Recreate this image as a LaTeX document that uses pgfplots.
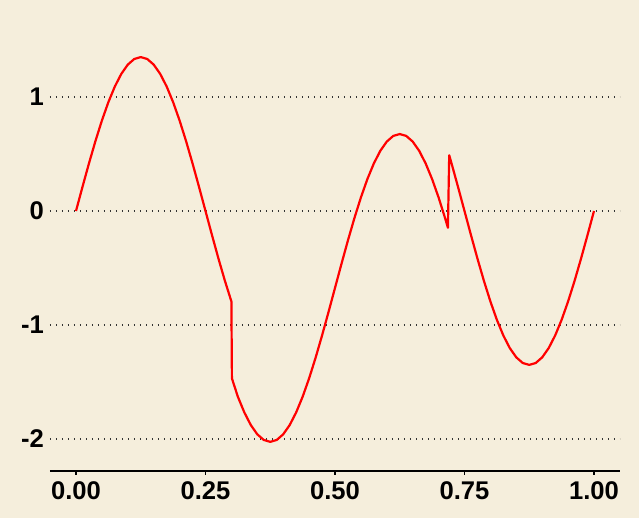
\documentclass[border=0pt]{standalone}
\usepackage{pgfplots}
\pgfplotsset{compat=1.18}
\usepackage{fontspec}
\setmainfont{Liberation Sans}
\definecolor{bgcol}{RGB}{245,238,220}

\begin{document}
\begin{tikzpicture}
\fill[bgcol] (-25pt,-23.5pt) rectangle (294.5pt,235.5pt);
\path[use as bounding box] (-25pt,-23.5pt) rectangle (294.5pt,235.5pt);
\begin{axis}[
    at={(0,0)}, anchor=south west,
    width=285pt, height=216.5pt, scale only axis,
    xmin=-0.0502, xmax=1.0502,
    ymin=-2.2807, ymax=1.5175,
    axis x line*=bottom, axis y line*=left,
    y axis line style={draw=none},
    x axis line style={line width=0.75pt, black},
    xtick={0,0.25,0.5,0.75,1},
    xticklabels={0.00,0.25,0.50,0.75,1.00},
    ytick={-2,-1,0,1},
    yticklabels={-2,-1,0,1},
    tick align=outside, major tick length=2pt,
    xtick style={line width=0.6pt, black},
    ytick style={draw=none},
    ymajorgrids,
    grid style={black!80, line width=0.7pt, dash pattern=on 0.7pt off 2.3pt},
    ticklabel style={font=\fontsize{12.8}{15}\selectfont\bfseries},
    yticklabel style={xshift=2.5pt},
]
% signal with two jumps (x = 0.3 and x = 0.72)
\addplot[red, line width=1.1pt, line join=round] coordinates {
    (0,0) (0.0125,0.2112) (0.025,0.4172) (0.0375,0.6129) (0.05,0.7935)
    (0.0625,0.9546) (0.075,1.0922) (0.0875,1.2029) (0.1,1.2839) (0.1125,1.3334)
    (0.125,1.35) (0.1375,1.3334) (0.15,1.2839) (0.1625,1.2029) (0.175,1.0922)
    (0.1875,0.9546) (0.2,0.7935) (0.2125,0.6129) (0.225,0.4172) (0.2375,0.2112)
    (0.25,0) (0.2625,-0.2112) (0.275,-0.4172) (0.2875,-0.6129) (0.3,-0.7935)
    (0.301,-1.4685)
    (0.3125,-1.6296) (0.325,-1.7672) (0.3375,-1.8779) (0.35,-1.9589) (0.3625,-2.0084)
    (0.375,-2.025) (0.3875,-2.0084) (0.4,-1.9589) (0.4125,-1.8779) (0.425,-1.7672)
    (0.4375,-1.6296) (0.45,-1.4685) (0.4625,-1.2879) (0.475,-1.0922) (0.4875,-0.8862)
    (0.5,-0.675) (0.5125,-0.4638) (0.525,-0.2578) (0.5375,-0.0621) (0.55,0.1185)
    (0.5625,0.2796) (0.575,0.4172) (0.5875,0.5279) (0.6,0.6089) (0.6125,0.6584)
    (0.625,0.675) (0.6375,0.6584) (0.65,0.6089) (0.6625,0.5279) (0.675,0.4172)
    (0.6875,0.2796) (0.7,0.1185) (0.7125,-0.0621) (0.718,-0.147)
    (0.7205,0.489)
    (0.725,0.4172) (0.7375,0.2112) (0.75,0) (0.7625,-0.2112) (0.775,-0.4172)
    (0.7875,-0.6129) (0.8,-0.7935) (0.8125,-0.9546) (0.825,-1.0922) (0.8375,-1.2029)
    (0.85,-1.2839) (0.8625,-1.3334) (0.875,-1.35) (0.8875,-1.3334) (0.9,-1.2839)
    (0.9125,-1.2029) (0.925,-1.0922) (0.9375,-0.9546) (0.95,-0.7935) (0.9625,-0.6129)
    (0.975,-0.4172) (0.9875,-0.2112) (1,0)
};
\end{axis}
\end{tikzpicture}
\end{document}
